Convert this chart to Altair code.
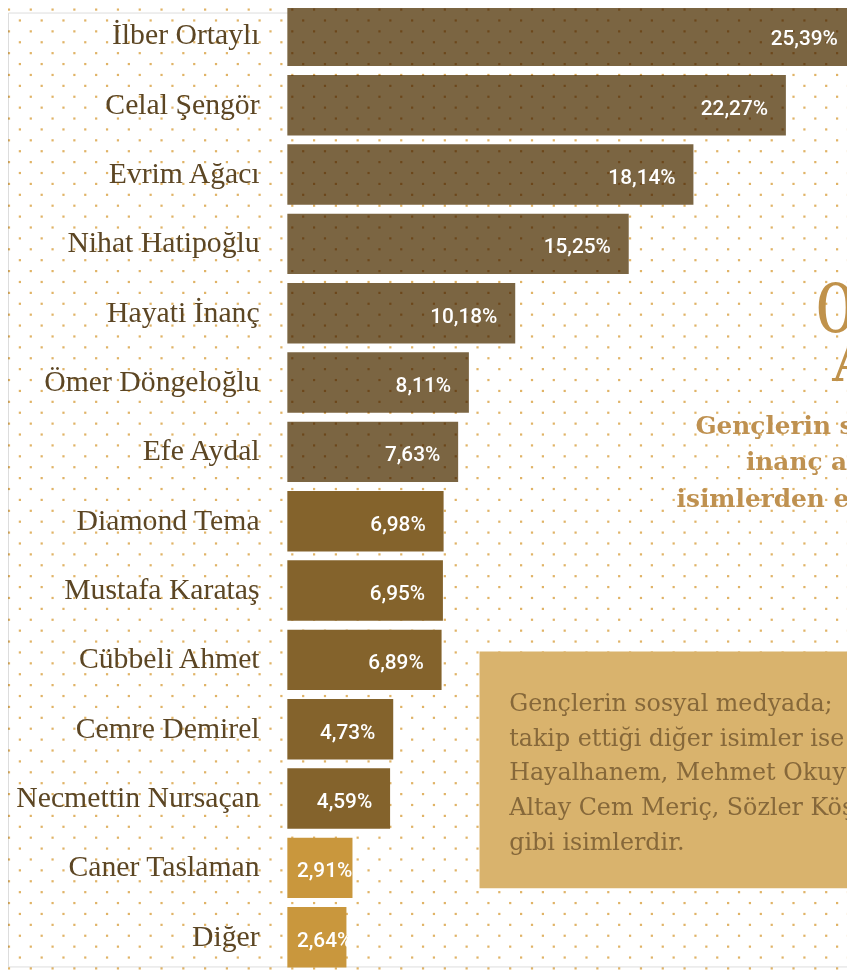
import altair as alt
import pandas as pd
import numpy as np

# ---- data ----
names = ["İlber Ortaylı", "Celal Şengör", "Evrim Ağacı", "Nihat Hatipoğlu", "Hayati İnanç",
         "Ömer Döngeloğlu", "Efe Aydal", "Diamond Tema", "Mustafa Karataş", "Cübbeli Ahmet",
         "Cemre Demirel", "Necmettin Nursaçan", "Caner Taslaman", "Diğer"]
values = [25.39, 22.27, 18.14, 15.25, 10.18, 8.11, 7.63, 6.98, 6.95, 6.89, 4.73, 4.59, 2.91, 2.64]
groups = ["a"] * 7 + ["b"] * 5 + ["c"] * 2
group_colors = ["#7b6542", "#84632c", "#c9973d"]

box_text = ("Gençlerin sosyal medyada;\n"
            "takip ettiği diğer isimler ise\n"
            "Hayalhanem, Mehmet Okuyan,\n"
            "Altay Cem Meriç, Sözler Köşkü\n"
            "gibi isimlerdir.")
gold_lines = ["Gençlerin s", "inanç a", "isimlerden e"]

W, H = 847, 963

df = pd.DataFrame({"name": names, "value": values, "grp": groups})

# decorative dot pattern (staggered grid)
pts = []
for r in range(0, 90):
    yy = -3 + 11 * r
    x0 = 1 if r % 2 == 0 else 12
    for xx in range(x0, W + 2, 22):
        pts.append((xx, yy))
dots_df = pd.DataFrame(pts, columns=["px", "py"])

xscale = alt.Scale(domain=[0, 25.0], range=[282, 847], zero=True, nice=False)
yscale = alt.Scale(domain=names, range=[-11.5, 968.5], paddingInner=9 / 70, paddingOuter=9 / 140)
cscale = alt.Scale(domain=["a", "b", "c"], range=group_colors)

base = alt.Chart(df)

def bar_layer(cond):
    return base.transform_filter(cond).mark_bar().encode(
        x=alt.X("value:Q", scale=xscale, axis=None),
        y=alt.Y("name:N", scale=yscale, axis=None, sort=names),
        color=alt.Color("grp:N", scale=cscale, legend=None),
    )

bars_top = bar_layer("datum.grp == 'a'")
bars_rest = bar_layer("datum.grp != 'a'")

dots = alt.Chart(dots_df).mark_square(size=5, color="#e0b366", opacity=1, blend="multiply").encode(
    x=alt.X("px:Q", scale=alt.Scale(domain=[0, W], range=[0, W], nice=False, zero=False), axis=None),
    y=alt.Y("py:Q", scale=alt.Scale(domain=[0, H], range=[0, H], nice=False, zero=False), axis=None),
)

value_labels = base.transform_calculate(
    lx="max(datum.value, 3.7)",
    lab="replace(format(datum.value, '.2f'), '.', ',') + '%'",
).mark_text(
    align="right", baseline="alphabetic", dx=-18, dy=9.5,
    font="Roboto", fontSize=21, fontWeight=500, color="white",
).encode(
    x=alt.X("lx:Q", scale=xscale, axis=None),
    y=alt.Y("name:N", scale=yscale, axis=None, sort=names),
    text="lab:N",
)

name_labels = base.mark_text(
    align="right", baseline="alphabetic", dy=8.5,
    font="Liberation Serif", fontSize=30, color="#5c4624",
).encode(
    x=alt.value(254),
    y=alt.Y("name:N", scale=yscale, axis=None, sort=names),
    text="name:N",
)

one = pd.DataFrame({"k": [0]})

box = alt.Chart(one).mark_rect(color="#d9b36d").encode(
    x=alt.value(476), x2=alt.value(W), y=alt.value(645), y2=alt.value(884)
)
box_txt = alt.Chart(one).mark_text(
    align="left", baseline="alphabetic", lineBreak="\n", lineHeight=35,
    font="DejaVu Serif", fontSize=24, color="#86683a",
).encode(x=alt.value(506), y=alt.value(705), text=alt.value(box_text))

gold_xy = [(694, 425), (745, 462), (675, 499)]
gold_layers = []
for (gx, gy), line in zip(gold_xy, gold_lines):
    gold_layers.append(alt.Chart(one).mark_text(
        align="left", baseline="alphabetic", font="DejaVu Serif", fontWeight="bold",
        fontSize=25, color="#bf9150",
    ).encode(x=alt.value(gx), y=alt.value(gy), text=alt.value(line)))

big0 = alt.Chart(one).mark_text(
    align="left", baseline="alphabetic", font="DejaVu Serif", fontSize=68, color="#c0924b"
).encode(x=alt.value(814), y=alt.value(322), text=alt.value("0"))
bigA = alt.Chart(one).mark_text(
    align="left", baseline="alphabetic", font="DejaVu Serif", fontSize=56, color="#c0924b"
).encode(x=alt.value(832), y=alt.value(372), text=alt.value("A"))

chart = alt.layer(
    bars_top, dots, bars_rest, name_labels, value_labels, box, box_txt, *gold_layers, big0, bigA
).resolve_scale(x="independent", y="independent").properties(
    width=W, height=H, autosize=alt.AutoSizeParams(type="none"),
    padding={"left": 0, "top": 0, "right": 0, "bottom": 0},
).configure_view(strokeWidth=0, stroke="transparent").configure(background="white")

chart.save("out.html", embed_options={"renderer": "svg", "actions": False})
